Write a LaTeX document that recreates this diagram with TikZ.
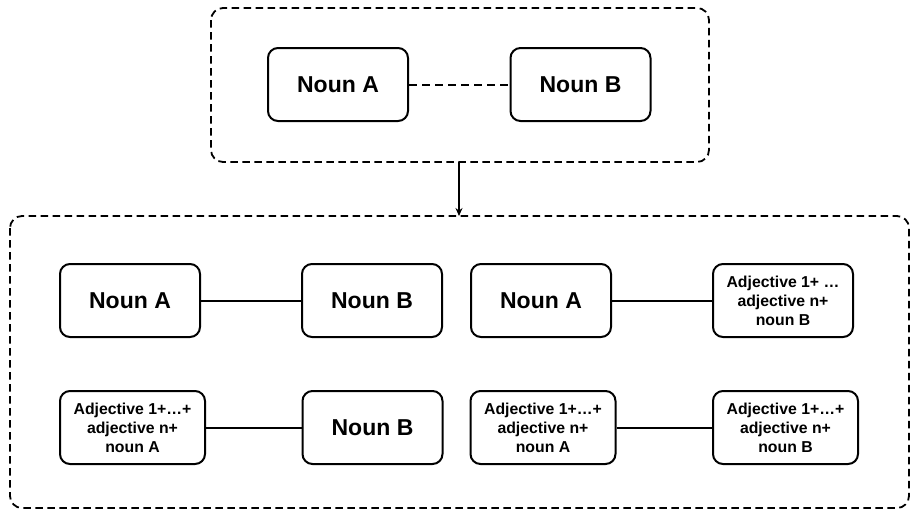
\documentclass[tikz,border=0pt]{standalone}
\usepackage{fontspec}
\setmainfont{Liberation Sans}
\usetikzlibrary{arrows.meta}
\begin{document}
\begin{tikzpicture}[x=1pt,y=-1pt,
  container/.style={draw, dash pattern=on 7.5pt off 4.5pt, line width=1.8pt, rounded corners=12pt},
  bigbox/.style={draw, line width=2pt, rounded corners=10pt, minimum width=140pt, minimum height=73pt, inner sep=0pt,
    font=\fontsize{23}{26}\selectfont\bfseries},
  textbox/.style={draw, line width=2pt, rounded corners=10pt, minimum height=73pt, inner sep=0pt, align=center,
    font=\fontsize{15.8}{19}\selectfont\bfseries},
  link/.style={line width=2pt},
  dlink/.style={line width=2pt, dash pattern=on 8pt off 5pt}]
\useasboundingbox (0,0) rectangle (911,512);

% outer containers
\draw[container] (211,8) rectangle (709,162);
\draw[container] (10,216) rectangle (909,508);
\coordinate (topc) at (459,162);
\coordinate (botc) at (459,216);
\draw[line width=2pt, -{Stealth[length=8pt,width=7pt]}] (topc) -- (botc);

% upper pair
\node[bigbox] (ta) at (338,84.5) {Noun A};
\node[bigbox] (tb) at (580.5,84.5) {Noun B};
\draw[dlink] (ta) -- (tb);

% first row
\node[bigbox] (a1) at (130,300.5) {Noun A};
\node[bigbox] (b1) at (372,300.5) {Noun B};
\draw[link] (a1) -- (b1);

\node[bigbox] (a2) at (541,300.5) {Noun A};
\node[textbox, minimum width=140pt] (b2) at (783,300.5) {Adjective 1+ \dots\\adjective n+\\noun B};
\draw[link] (a2) -- (b2);

% second row
\node[textbox, minimum width=145pt] (a3) at (132.5,427.5) {Adjective 1+\dots+\\adjective n+\\noun A};
\node[bigbox] (b3) at (372.5,427.5) {Noun B};
\draw[link] (a3) -- (b3);

\node[textbox, minimum width=145pt] (a4) at (543,427.5) {Adjective 1+\dots+\\adjective n+\\noun A};
\node[textbox, minimum width=145pt] (b4) at (785.5,427.5) {Adjective 1+\dots+\\adjective n+\\noun B};
\draw[link] (a4) -- (b4);
\end{tikzpicture}
\end{document}
